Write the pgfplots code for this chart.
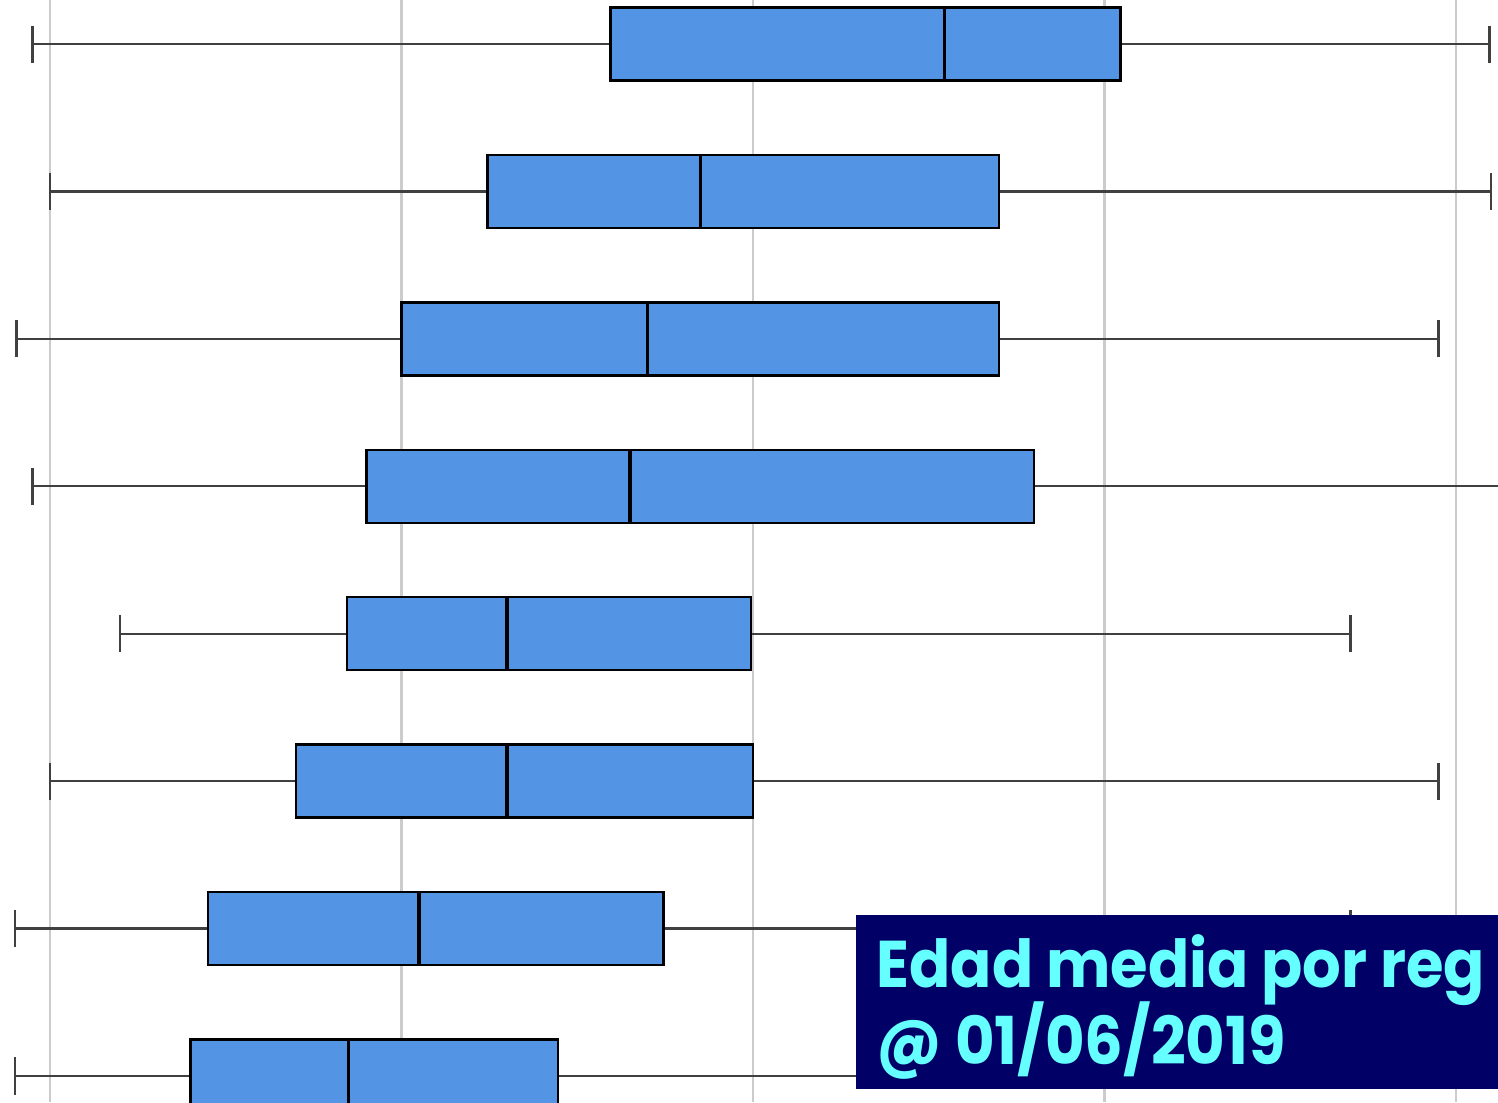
\documentclass[border=0pt]{standalone}
\usepackage{pgfplots}
\pgfplotsset{compat=1.18}
\usepgfplotslibrary{statistics}
\usepackage{fontspec}
\newfontfamily\labelfont{Poppins}[FakeStretch=0.92]
\definecolor{boxblue}{RGB}{84,148,228}
\definecolor{navy}{RGB}{0,0,102}
\definecolor{cyantext}{RGB}{102,255,255}
\begin{document}
\begin{tikzpicture}
\path (0,0) rectangle (14.98cm,11.02cm);
\begin{pgfinterruptboundingbox}
\clip (0,0) rectangle (14.98cm,11.02cm);
\begin{axis}[
  at={(0,0)}, anchor=south west,
  scale only axis, width=14.98cm, height=11.02cm,
  xmin=39.7155, xmax=48.239,
  ymin=0.8236, ymax=8.2985,
  xtick={40,42,44,46,48}, xticklabels={},
  ytick=\empty,
  axis line style={draw=none},
  tick style={draw=none},
  xmajorgrids,
  grid style={draw=gray!40, line width=0.6pt},
  boxplot/box extend=0.495,
  boxplot/whisker extend=0.251,
  boxplot/every box/.style={fill=boxblue, draw=black, line width=0.7pt},
  boxplot/every whisker/.style={draw=black!75, line width=0.65pt},
  boxplot/every median/.style={draw=black, line width=0.95pt},
]
\addplot[boxplot prepared={draw position=8, lower whisker=39.90, lower quartile=43.19, median=45.09, upper quartile=46.09, upper whisker=48.19}] coordinates {};
\addplot[boxplot prepared={draw position=7, lower whisker=40.00, lower quartile=42.49, median=43.70, upper quartile=45.40, upper whisker=48.20}] coordinates {};
\addplot[boxplot prepared={draw position=6, lower whisker=39.81, lower quartile=42.00, median=43.40, upper quartile=45.40, upper whisker=47.90}] coordinates {};
\addplot[boxplot prepared={draw position=5, lower whisker=39.90, lower quartile=41.80, median=43.30, upper quartile=45.60, upper whisker=48.60}] coordinates {};
\addplot[boxplot prepared={draw position=4, lower whisker=40.40, lower quartile=41.69, median=42.60, upper quartile=43.99, upper whisker=47.40}] coordinates {};
\addplot[boxplot prepared={draw position=3, lower whisker=40.00, lower quartile=41.40, median=42.60, upper quartile=44.00, upper whisker=47.90}] coordinates {};
\addplot[boxplot prepared={draw position=2, lower whisker=39.80, lower quartile=40.90, median=42.10, upper quartile=43.49, upper whisker=47.40}] coordinates {};
\addplot[boxplot prepared={draw position=1, lower whisker=39.80, lower quartile=40.80, median=41.70, upper quartile=42.89, upper whisker=48.50}] coordinates {};
\end{axis}
\fill[navy] (8.56cm,0.13cm) rectangle (15.2cm,1.87cm);
\node[anchor=base west, inner sep=0pt, text=cyantext, font=\labelfont\bfseries\fontsize{18.8pt}{22pt}\selectfont] at (8.76cm,1.15cm) {Edad media por reg};
\node[anchor=base west, inner sep=0pt, text=cyantext, font=\labelfont\bfseries\fontsize{18.8pt}{22pt}\selectfont] at (8.76cm,0.38cm) {@ 01/06/2019};
\end{pgfinterruptboundingbox}
\end{tikzpicture}
\end{document}
